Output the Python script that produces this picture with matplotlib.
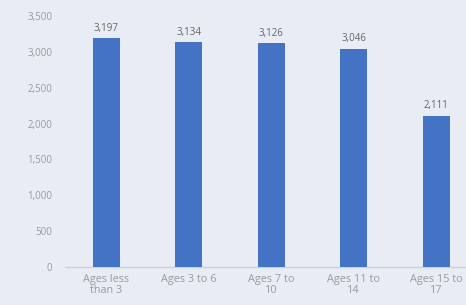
import matplotlib
matplotlib.use("Agg")
import matplotlib.pyplot as plt

categories = ["Ages less\nthan 3", "Ages 3 to 6", "Ages 7 to\n10", "Ages 11 to\n14", "Ages 15 to\n17"]
values = [3197, 3134, 3126, 3046, 2111]
yticks = [0, 500, 1000, 1500, 2000, 2500, 3000, 3500]

BG = "#e8edf5"
BAR = "#4472c4"
TXT = "#9a9a9a"

plt.rcParams["font.family"] = ["Open Sans", "DejaVu Sans"]

fig = plt.figure(figsize=(4.66, 3.05), dpi=100)
fig.patch.set_facecolor(BG)
ax = fig.add_axes([65 / 466, 38 / 305, 412.5 / 466, 251 / 305])
ax.set_facecolor(BG)

x = list(range(len(categories)))
bars = ax.bar(x, values, width=0.33, color=BAR, zorder=3)
for xi, v in zip(x, values):
    ax.annotate(f"{v:,}", (xi, v), xytext=(0, 3), textcoords="offset points",
                ha="center", va="bottom", fontsize=7, color="#666666")

ax.set_xlim(-0.5, 4.5)
ax.set_ylim(0, 3500)
ax.set_yticks(yticks)
ax.set_yticklabels([f"{t:,}" for t in yticks])
ax.set_xticks(x)
ax.set_xticklabels(categories, linespacing=0.95)

for s in ["top", "right", "left"]:
    ax.spines[s].set_visible(False)
ax.spines["bottom"].set_color("#cdd2da")
ax.spines["bottom"].set_linewidth(1.0)
ax.tick_params(axis="y", length=0, pad=9, labelsize=7, labelcolor=TXT)
ax.tick_params(axis="x", length=0, pad=5, labelsize=7.8, labelcolor=TXT)

fig.savefig("out.png", dpi=100, facecolor=BG)
